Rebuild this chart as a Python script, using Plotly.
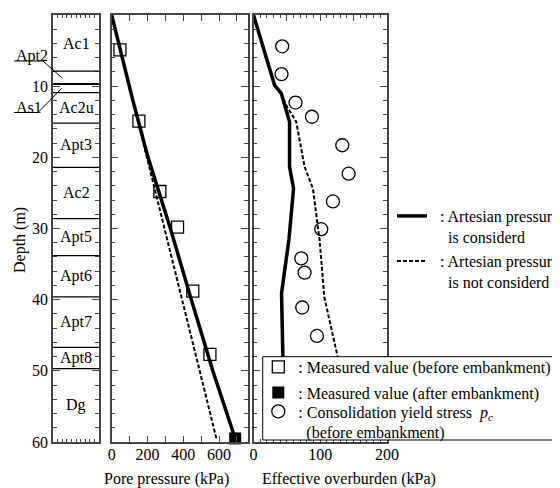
import plotly.graph_objects as go

# ---------------- data ----------------
# soil column
layer_names = ["Ac1", "Apt2", "As1", "Ac2u", "Apt3", "Ac2", "Apt5", "Apt6", "Apt7", "Apt8", "Dg"]
layer_tops = [0, 7.9, 9.7, 10.9, 15.2, 21.4, 28.6, 33.8, 39.6, 46.7, 49.7]
layer_bottom = 60

# pore pressure (kPa) vs depth (m)
pp_depth_art = [0, 12, 20, 30, 40, 50, 59.5]
pp_art = [0, 118, 203, 328, 445, 565, 690]
pp_depth_hyd = [0, 59.5]
pp_hyd = [0, 585]
meas_before_depth = [4.9, 14.9, 24.8, 29.8, 38.8, 47.7]
meas_before_pp = [46, 152, 269, 368, 453, 549]
meas_after_depth = [59.5]
meas_after_pp = [690]

# effective overburden (kPa) vs depth (m)
eo_depth_art = [0, 9.85, 11, 15, 21.3, 24.4, 31.6, 39.1, 48, 51]
eo_art = [0, 31.5, 41.6, 54, 54, 60, 53, 42, 44, 45]
eo_depth_hyd = [0, 9.85, 11, 12.7, 15, 21.3, 24.4, 31.6, 39.6, 48, 51]
eo_hyd = [0, 31.5, 41.6, 49, 64, 76.5, 89, 99, 106, 126, 128]
pc_depth = [4.4, 8.3, 12.3, 14.3, 18.3, 22.3, 26.2, 30.1, 34.2, 36.2, 41.1, 45.1]
pc_val = [43, 42, 63, 87.5, 133, 142.5, 119, 101.5, 71.6, 76.5, 73, 95]

pp_ticks = [0, 100, 200, 300, 400, 500, 600, 700]
pp_ticktext = ["0", " ", "200", " ", "400", " ", "600", " "]
eo_ticks = [0, 50, 100, 150, 200]
eo_ticktext = ["0", " ", "100", " ", "200"]
depth_ticks = [0, 10, 20, 30, 40, 50, 60]

# ---------------- layout helpers ----------------
W, H = 560, 488
OX, OY = 8, 8  # page body offset
FONT = "Liberation Serif, Times New Roman, serif"
AX = "#444444"
NB = "\u00a0"


def px(x):
    return (x - OX) / W


def py(y):
    return 1 - (y - OY) / H


ydom = [py(442), py(15)]


def dpy(d):
    return ydom[0] + (1 - d / 60.0) * (ydom[1] - ydom[0])


fig = go.Figure()

# lines
fig.add_trace(go.Scatter(x=pp_art, y=pp_depth_art, xaxis="x2", yaxis="y2", mode="lines",
                         line=dict(color="black", width=3.5), legend="legend2", legendgroup="art",
                         name=NB * 2 + ": Artesian pressure<br>" + NB * 4 + "is considerd"))
fig.add_trace(go.Scatter(x=pp_hyd, y=pp_depth_hyd, xaxis="x2", yaxis="y2", mode="lines",
                         line=dict(color="black", width=2, dash="4px,2px"), legend="legend5",
                         legendgroup="hyd", name=NB * 2 + ": Artesian pressure<br>" + NB * 4 + "is not considerd"))
fig.add_trace(go.Scatter(x=eo_art, y=eo_depth_art, xaxis="x3", yaxis="y3", mode="lines",
                         line=dict(color="black", width=3.5), legend="legend2", legendgroup="art",
                         showlegend=False))
fig.add_trace(go.Scatter(x=eo_hyd, y=eo_depth_hyd, xaxis="x3", yaxis="y3", mode="lines",
                         line=dict(color="black", width=2, dash="4px,2px"), legend="legend5",
                         legendgroup="hyd", showlegend=False))

# markers
fig.add_trace(go.Scatter(x=meas_before_pp, y=meas_before_depth, xaxis="x2", yaxis="y2", mode="markers",
                         marker=dict(symbol="square-open", size=12, color="black", line=dict(width=1.3)),
                         legend="legend", name=": Measured value (before embankment)"))
fig.add_trace(go.Scatter(x=meas_after_pp, y=meas_after_depth, xaxis="x2", yaxis="y2", mode="markers",
                         marker=dict(symbol="square", size=12, color="black"), legend="legend3",
                         name=": Measured value (after embankment)", cliponaxis=False))
fig.add_trace(go.Scatter(x=pc_val, y=pc_depth, xaxis="x3", yaxis="y3", mode="markers",
                         marker=dict(symbol="circle-open", size=13, color="black", line=dict(width=1.3)),
                         legend="legend4",
                         name=": Consolidation yield stress" + NB * 2 + "<i>p<sub>c</sub></i><br>" + NB * 2
                              + "(before embankment)"))

common_y = dict(range=[60, 0], domain=ydom, showline=True, linecolor=AX, linewidth=1.5,
                mirror="ticks", ticks="inside", tickcolor=AX, ticklen=7, tickwidth=1,
                tickvals=depth_ticks, showgrid=False, zeroline=False,
                minor=dict(dtick=2, ticks="inside", ticklen=4, tickcolor=AX, showgrid=False))
common_x = dict(showline=True, linecolor=AX, linewidth=1.5, mirror="ticks", ticks="inside",
                tickcolor=AX, ticklen=6, showgrid=False, zeroline=False, ticklabelstandoff=-3,
                tickfont=dict(size=16, family=FONT, color="black"))


def leg(x, y, **kw):
    d = dict(x=px(x), y=py(y), xanchor="left", yanchor="top", bgcolor="rgba(0,0,0,0)",
             borderwidth=0, font=dict(size=16, family=FONT, color="black"), itemwidth=30,
             valign="top", tracegroupgap=0)
    d.update(kw)
    return d


LEG_X = 258.3
fig.update_layout(
    width=W, height=H, margin=dict(l=0, r=0, t=0, b=0, autoexpand=False),
    paper_bgcolor="white", plot_bgcolor="white",
    font=dict(family=FONT, size=16, color="black"),
    xaxis=dict(domain=[px(53), px(99)], range=[0, 1], anchor="y", showticklabels=False,
               showline=True, linecolor=AX, linewidth=1.5, mirror="ticks", ticks="inside",
               tickcolor=AX, ticklen=3, dtick=0.1, tick0=0, showgrid=False, zeroline=False),
    yaxis=dict(anchor="x", showticklabels=True, tickfont=dict(size=16, family=FONT, color="black"),
               **common_y),
    xaxis2=dict(domain=[px(111.7), px(247.7)], range=[0, 760], anchor="y2",
                tickvals=pp_ticks, ticktext=pp_ticktext, **common_x),
    yaxis2=dict(anchor="x2", showticklabels=False, **common_y),
    xaxis3=dict(domain=[px(253.5), px(387)], range=[0, 200], anchor="y3",
                tickvals=eo_ticks, ticktext=eo_ticktext,
                minor=dict(dtick=10, ticks="inside", ticklen=3, tickcolor=AX, showgrid=False),
                **common_x),
    yaxis3=dict(anchor="x3", showticklabels=False, **common_y),
    legend=leg(LEG_X, 366 - 16),
    legend3=leg(LEG_X, 391.7 - 16),
    legend4=leg(LEG_X, 410.5 - 16),
    legend2=leg(392, 215 - 16),
    legend5=leg(392, 260 - 16),
    showlegend=True,
)

# layer boundaries and names
shapes = []
annotations = []
for i, (name, top) in enumerate(zip(layer_names, layer_tops)):
    bot = layer_tops[i + 1] if i + 1 < len(layer_tops) else layer_bottom
    if top > 0:
        shapes.append(dict(type="line", xref="x", yref="y", x0=0, x1=1, y0=top, y1=top,
                           line=dict(color="black", width=2 if name == "As1" else 1.2)))
    if name in ("Apt2", "As1"):
        continue
    annotations.append(dict(x=0.5, y=(top + bot) / 2, xref="x", yref="y", text=name,
                            xanchor="center", yanchor="middle",
                            showarrow=False, font=dict(size=16, family=FONT)))

# outside labels with leaders for thin layers
col_x0 = 53
col_w = 46
leaders = [("Apt2", 1, 56, 61, 43), ("As1", 2, 107, 112.5, 38)]
for name, idx, ty, uy, ux in leaders:
    mid = (layer_tops[idx] + layer_tops[idx + 1]) / 2
    annotations.append(dict(x=px(14), y=py(ty), xref="paper", yref="paper", text=name,
                            xanchor="left", yanchor="middle", showarrow=False,
                            font=dict(size=16, family=FONT)))
    ex = px(col_x0 + 0.19 * col_w)
    ey = dpy(mid)
    shapes.append(dict(type="path", xref="paper", yref="paper",
                       path=f"M {px(14)},{py(uy)} L {px(ux)},{py(uy)} L {ex},{ey}",
                       line=dict(color="black", width=1)))

# legend box (white, covers the plot beneath it)
shapes.append(dict(type="rect", xref="paper", yref="paper", x0=px(262.7), x1=px(556.7),
                   y0=py(440), y1=py(356.7), fillcolor="white",
                   line=dict(color="black", width=1), layer="above"))

annotations += [
    dict(x=px(20), y=py(240), xref="paper", yref="paper", text="Depth (m)", textangle=-90,
         xanchor="center", yanchor="middle", showarrow=False, font=dict(size=16, family=FONT)),
    dict(x=px(166), y=py(479), xref="paper", yref="paper", text="Pore pressure (kPa)",
         xanchor="center", yanchor="middle", showarrow=False, font=dict(size=16, family=FONT)),
    dict(x=px(349), y=py(479), xref="paper", yref="paper", text="Effective overburden (kPa)",
         xanchor="center", yanchor="middle", showarrow=False, font=dict(size=16, family=FONT)),
]

fig.update_layout(shapes=shapes, annotations=annotations)
fig.write_html("out.html")
